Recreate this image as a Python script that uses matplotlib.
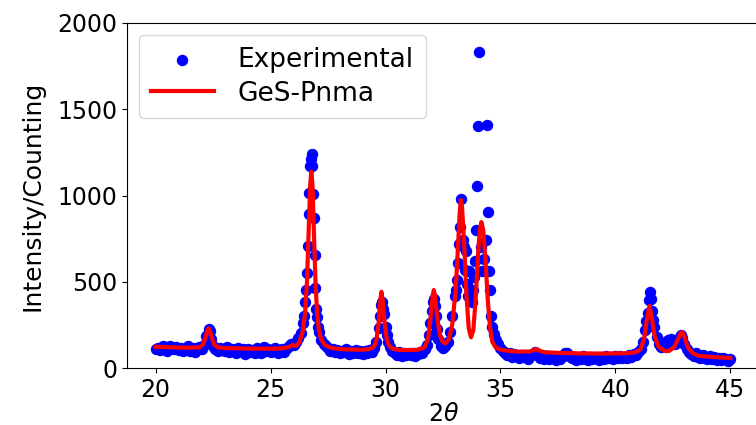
import matplotlib
matplotlib.use("Agg")
import matplotlib.pyplot as plt
import numpy as np

### experimental XRD points (2theta, counts)
exp_2theta = [
    20.0, 20.1, 20.2, 20.3, 20.4, 20.5, 20.6, 20.7, 20.8, 20.9,
    21.0, 21.1, 21.2, 21.3, 21.4, 21.5, 21.6, 21.7, 21.8, 21.9,
    22.0, 22.1, 22.2, 22.3, 22.35, 22.4, 22.5, 22.6, 22.7, 22.8, 22.9,
    23.0, 23.1, 23.2, 23.3, 23.4, 23.5, 23.6, 23.7, 23.8, 23.9,
    24.0, 24.1, 24.2, 24.3, 24.4, 24.5, 24.6, 24.7, 24.8, 24.9,
    25.0, 25.1, 25.2, 25.3, 25.4, 25.5, 25.6, 25.7, 25.8, 25.9,
    26.0, 26.1, 26.2, 26.3, 26.4, 26.45, 26.5, 26.55, 26.6, 26.62,
    26.65, 26.68, 26.72, 26.75, 26.78, 26.8, 26.85, 26.88, 26.92, 26.95,
    26.98, 27.02, 27.06, 27.1, 27.2, 27.3, 27.4, 27.5, 27.6, 27.7,
    27.8, 27.9, 28.0, 28.1, 28.2, 28.3, 28.4, 28.5, 28.6, 28.7,
    28.8, 28.9, 29.0, 29.1, 29.2, 29.3, 29.4, 29.5, 29.6, 29.7,
    29.75, 29.8, 29.85, 29.9, 29.95, 30.0, 30.05, 30.1, 30.2, 30.3,
    30.4, 30.5, 30.6, 30.7, 30.8, 30.9, 31.0, 31.1, 31.2, 31.3,
    31.4, 31.5, 31.6, 31.7, 31.8, 31.9, 31.95, 32.0, 32.05, 32.1,
    32.15, 32.2, 32.25, 32.3, 32.4, 32.5, 32.6, 32.7, 32.8, 32.9,
    33.0, 33.05, 33.1, 33.15, 33.2, 33.25, 33.3, 33.35, 33.4, 33.45,
    33.5, 33.55, 33.6, 33.65, 33.7, 33.75, 33.8, 33.85, 33.9, 33.95,
    34.0, 34.02, 34.05, 34.15, 34.2, 34.3, 34.35, 34.42, 34.45, 34.5,
    34.55, 34.6, 34.65, 34.7, 34.8, 34.9, 35.0, 35.1, 35.2, 35.3,
    35.4, 35.5, 35.6, 35.7, 35.8, 35.9, 36.0, 36.1, 36.2, 36.3,
    36.4, 36.5, 36.6, 36.7, 36.8, 36.9, 37.0, 37.1, 37.2, 37.3,
    37.4, 37.5, 37.6, 37.7, 37.8, 37.9, 38.0, 38.1, 38.2, 38.3,
    38.4, 38.5, 38.6, 38.7, 38.8, 38.9, 39.0, 39.1, 39.2, 39.3,
    39.4, 39.5, 39.6, 39.7, 39.8, 39.9, 40.0, 40.1, 40.2, 40.3,
    40.4, 40.5, 40.6, 40.7, 40.8, 40.9, 41.0, 41.1, 41.2, 41.3,
    41.35, 41.4, 41.45, 41.5, 41.55, 41.6, 41.65, 41.7, 41.8, 41.9,
    42.0, 42.1, 42.2, 42.3, 42.4, 42.5, 42.6, 42.7, 42.8, 42.85,
    42.9, 43.0, 43.1, 43.2, 43.3, 43.4, 43.5, 43.6, 43.7, 43.8,
    43.9, 44.0, 44.1, 44.2, 44.3, 44.4, 44.5, 44.6, 44.7, 44.8,
    44.9, 45.0]
exp_counts = [
    112, 118, 105, 125, 120, 98, 130, 115, 108, 122,
    104, 118, 96, 112, 125, 100, 117, 92, 110, 120,
    108, 135, 185, 228, 215, 170, 128, 112, 96, 118, 105,
    99, 120, 92, 110, 102, 88, 115, 98, 108, 84,
    112, 95, 105, 90, 118, 100, 86, 122, 96, 108,
    92, 104, 115, 88, 100, 110, 94, 118, 125, 140,
    132, 150, 172, 205, 262, 300, 380, 455, 550, 710,
    890, 1015, 1170, 1210, 1240, 1170, 1010, 870, 655, 465,
    345, 298, 240, 210, 165, 140, 128, 118, 98, 110,
    92, 105, 86, 100, 95, 108, 84, 98, 90, 102,
    88, 96, 82, 100, 90, 105, 95, 118, 150, 230,
    300, 365, 385, 345, 315, 240, 190, 150, 120, 100,
    88, 78, 92, 70, 85, 74, 90, 78, 88, 72,
    84, 95, 86, 110, 135, 190, 260, 330, 380, 400,
    360, 300, 225, 170, 130, 115, 128, 150, 210, 300,
    420, 455, 510, 610, 720, 820, 980, 740, 700, 570,
    680, 490, 420, 560, 410, 380, 450, 530, 620, 800,
    1055, 1400, 1830, 700, 560, 630, 740, 1410, 905, 565,
    450, 300, 240, 200, 160, 140, 118, 100, 85, 75,
    88, 65, 80, 70, 58, 76, 62, 72, 55, 70,
    80, 92, 78, 60, 72, 55, 68, 50, 66, 58,
    45, 62, 52, 70, 85, 90, 72, 56, 64, 48,
    60, 52, 68, 55, 44, 62, 50, 66, 56, 48,
    64, 52, 70, 58, 62, 50, 68, 56, 72, 60,
    66, 58, 75, 64, 82, 78, 95, 110, 150, 220,
    275, 320, 395, 440, 400, 330, 280, 240, 180, 140,
    120, 130, 150, 165, 168, 155, 140, 160, 180, 190,
    175, 140, 110, 95, 80, 72, 85, 65, 58, 74,
    60, 52, 68, 55, 62, 48, 58, 45, 60, 50,
    42, 55]

### refined GeS-Pnma profile
fit_2theta = [
    20.0, 20.5, 21.0, 21.5, 21.9, 22.05, 22.15, 22.25, 22.3, 22.35,
    22.45, 22.55, 22.7, 23.0, 24.0, 25.0, 25.5, 25.8, 25.95, 26.1,
    26.25, 26.4, 26.5, 26.58, 26.65, 26.72, 26.77, 26.82, 26.88, 26.95,
    27.02, 27.1, 27.2, 27.35, 27.6, 28.0, 28.5, 29.0, 29.3, 29.5,
    29.6, 29.7, 29.77, 29.82, 29.87, 29.95, 30.05, 30.15, 30.3, 30.6,
    31.0, 31.4, 31.7, 31.85, 31.95, 32.05, 32.1, 32.15, 32.25, 32.35,
    32.45, 32.6, 32.75, 32.9, 33.05, 33.15, 33.23, 33.28, 33.33, 33.42,
    33.52, 33.62, 33.72, 33.82, 33.92, 34.02, 34.1, 34.17, 34.25, 34.35,
    34.45, 34.55, 34.65, 34.8, 35.0, 35.3, 35.8, 36.3, 36.45, 36.55,
    36.65, 36.9, 37.5, 38.5, 39.5, 40.5, 40.9, 41.1, 41.25, 41.38,
    41.48, 41.58, 41.7, 41.85, 42.0, 42.2, 42.35, 42.55, 42.7, 42.85,
    42.92, 43.0, 43.15, 43.35, 43.6, 44.0, 44.5, 45.0]
fit_counts = [
    123, 121, 119, 118, 120, 135, 170, 218, 230, 218,
    170, 135, 120, 116, 113, 112, 114, 122, 133, 128,
    150, 215, 320, 500, 780, 1060, 1138, 1060, 800, 500,
    320, 220, 165, 135, 118, 110, 107, 106, 110, 125,
    160, 260, 390, 442, 400, 270, 170, 130, 112, 105,
    104, 106, 120, 170, 280, 420, 452, 420, 290, 200,
    158, 143, 165, 250, 450, 700, 910, 974, 930, 720,
    420, 230, 178, 220, 400, 650, 800, 846, 800, 620,
    390, 230, 150, 118, 107, 100, 95, 96, 104, 110,
    103, 92, 88, 85, 84, 86, 92, 110, 170, 290,
    359, 300, 190, 130, 110, 98, 100, 120, 160, 205,
    207, 185, 120, 88, 72, 66, 62, 58]

### plot
fig = plt.figure(figsize=(7.56, 4.25), dpi=100)
ax = fig.add_axes([0.168, 0.134, 0.836, 0.812])

ax.scatter(exp_2theta, exp_counts, s=52, color='blue', label='Experimental', zorder=2)
ax.plot(fit_2theta, fit_counts, color='red', lw=3, label='GeS-Pnma', zorder=3)

ax.set_xlim(18.75, 46.25)
ax.set_ylim(0, 2000)
ax.set_xticks([20, 25, 30, 35, 40, 45])
ax.set_yticks([0, 500, 1000, 1500, 2000])
ax.tick_params(labelsize=17)
ax.set_xlabel(r"$2\theta$", fontsize=17, labelpad=0)
ax.set_ylabel("Intensity/Counting", fontsize=18, labelpad=9)
ax.legend(loc='upper left', fontsize=19, handlelength=2.4, handletextpad=0.9,
          labelspacing=0.3, borderaxespad=0.45, borderpad=0.45)

fig.savefig("out.png", dpi=100)
